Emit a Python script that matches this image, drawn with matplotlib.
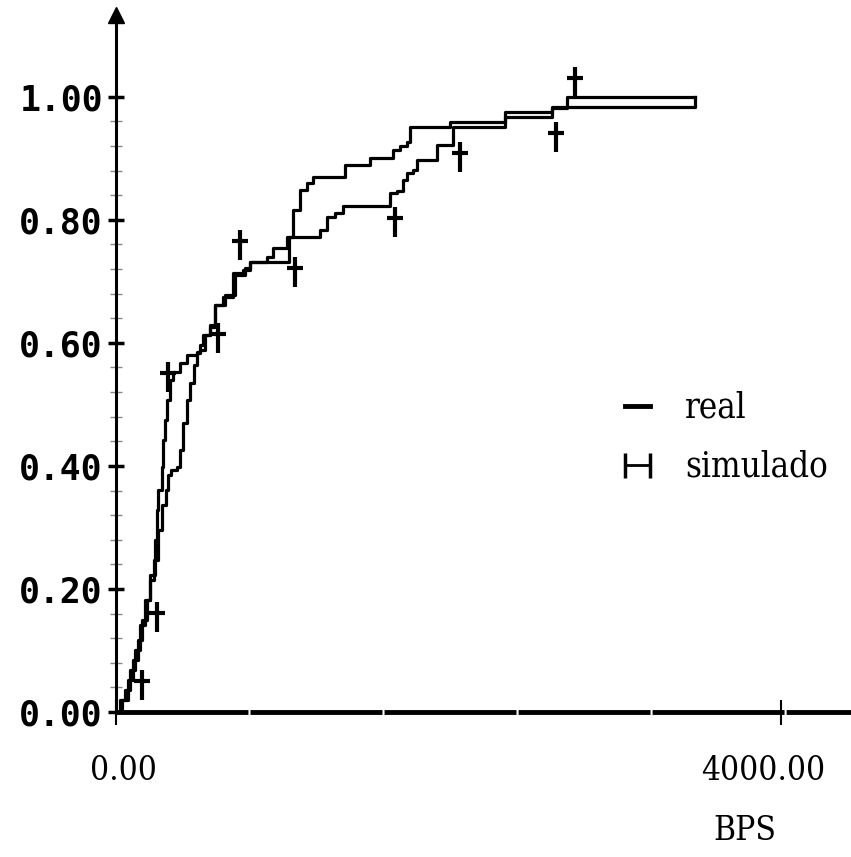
import numpy as np
import matplotlib.pyplot as plt
from matplotlib.path import Path
from matplotlib.lines import Line2D
from matplotlib.ticker import FixedLocator
from matplotlib.transforms import ScaledTranslation

plt.rcParams['lines.scale_dashes'] = False

# distribucion acumulada del trafico (BPS)
real_x = [0, 24, 54, 84, 114, 144, 174, 205, 235, 247, 253, 277, 283, 295, 307,
          325, 343, 385, 427, 487, 505, 535, 565, 595, 644, 704, 764, 806, 908,
          944, 1029, 1065, 1107, 1149, 1185, 1377, 1528, 1666, 1708, 1750, 1768,
          2009, 2340, 2623, 2713, 3483]
real_y = [0.0, 0.020, 0.036, 0.068, 0.101, 0.141, 0.182, 0.223, 0.280, 0.328,
          0.361, 0.398, 0.442, 0.475, 0.507, 0.540, 0.553, 0.567, 0.580, 0.585,
          0.589, 0.613, 0.626, 0.662, 0.675, 0.714, 0.719, 0.732, 0.740, 0.754,
          0.772, 0.816, 0.849, 0.860, 0.870, 0.889, 0.901, 0.914, 0.920, 0.927,
          0.951, 0.959, 0.976, 0.982, 1.000, 1.000]

sim_x = [0, 36, 72, 102, 132, 156, 186, 205, 229, 253, 277, 301, 313, 331, 367,
         385, 403, 427, 445, 469, 487, 505, 523, 565, 595, 656, 716, 776, 806,
         1041, 1227, 1269, 1317, 1365, 1648, 1690, 1726, 1750, 1786, 1811, 1931,
         2027, 2340, 2623, 3483]
sim_y = [0.0, 0.020, 0.052, 0.085, 0.117, 0.150, 0.182, 0.215, 0.247, 0.296,
         0.337, 0.361, 0.385, 0.393, 0.398, 0.426, 0.470, 0.507, 0.535, 0.564,
         0.584, 0.597, 0.613, 0.629, 0.662, 0.678, 0.711, 0.722, 0.732, 0.772,
         0.784, 0.805, 0.811, 0.823, 0.844, 0.847, 0.865, 0.876, 0.881, 0.898,
         0.922, 0.951, 0.967, 0.984, 1.000]

mark_x = [156, 247, 313, 614, 746, 1077, 1678, 2069, 2647, 2761]
mark_y = [0.044, 0.154, 0.545, 0.608, 0.759, 0.715, 0.797, 0.902, 0.935, 1.024]

y_ticks = [0.0, 0.2, 0.4, 0.6, 0.8, 1.0]
y_labels = ['0.00', '0.20', '0.40', '0.60', '0.80', '1.00']
x_ticks = [0, 4000]
x_labels = ['0.00', '4000.00']

serif = ['DejaVu Serif', 'Liberation Serif']

fig = plt.figure(figsize=(8.51, 8.57), dpi=100)
ax = fig.add_axes([116 / 851, 1 - 712 / 857, 1 - 116 / 851, 697 / 857])
ax.set_xlim(0, 4421)
ax.set_ylim(0, 1.133)

# cruz con el brazo horizontal algo arriba del centro
cross = Path([(0, -1), (0, 1), (-0.55, 0.25), (0.55, 0.25)],
             [Path.MOVETO, Path.LINETO, Path.MOVETO, Path.LINETO])

ax.plot(real_x, real_y, drawstyle='steps-post', color='k', lw=2.3)
ax.plot(sim_x, sim_y, drawstyle='steps-post', color='k', lw=2.3)
ax.plot(mark_x, mark_y, ls='none', marker=cross, ms=21, mew=3,
        mfc='none', color='k')

# ejes
for s in ['top', 'right', 'bottom']:
    ax.spines[s].set_visible(False)
ax.spines['left'].set_linewidth(2.2)
ax.axhline(0, color='k', lw=3.5, dashes=(95, 1.5), clip_on=False)
ax.plot([0], [1], marker='^', ms=11, color='k', transform=ax.transAxes,
        clip_on=False)

ax.set_yticks(y_ticks, y_labels)
ax.yaxis.set_minor_locator(FixedLocator(np.arange(0.04, 1.0, 0.04)))
ax.tick_params(axis='y', which='major', direction='inout', length=12,
               width=2.5, pad=3.5, labelsize=25)
ax.tick_params(axis='y', which='minor', direction='inout', length=8,
               width=1, color='#888888')
for lab in ax.get_yticklabels():
    lab.set_family('DejaVu Sans Mono')
    lab.set_fontweight('bold')

ax.set_xticks(x_ticks, x_labels)
ax.tick_params(axis='x', which='major', direction='inout', length=18,
               width=1.5, pad=22, labelsize=24)
shifts = [0.07, -0.18]
for lab, dx in zip(ax.get_xticklabels(), shifts):
    lab.set_family(serif)
    lab.set_fontstretch('condensed')
    lab.set_transform(lab.get_transform() +
                      ScaledTranslation(dx, 0, fig.dpi_scale_trans))

ax.set_xlabel('BPS', fontsize=24, family=serif, fontstretch='condensed')
ax.xaxis.set_label_coords(0.856, -0.148)

h_real = Line2D([], [], color='k', lw=3.5)
h_sim = Line2D([], [], color='k', lw=2, marker='|', ms=18, mew=2.5)
ax.legend([h_real, h_sim], ['real', 'simulado'], loc='upper left',
          bbox_to_anchor=(0.679, 0.461), frameon=False, numpoints=2,
          handlelength=1.3, handletextpad=0.72, labelspacing=0.72,
          borderpad=0, borderaxespad=0,
          prop=dict(family=serif, size=25, stretch='condensed'))

fig.savefig('out.png', dpi=100)
